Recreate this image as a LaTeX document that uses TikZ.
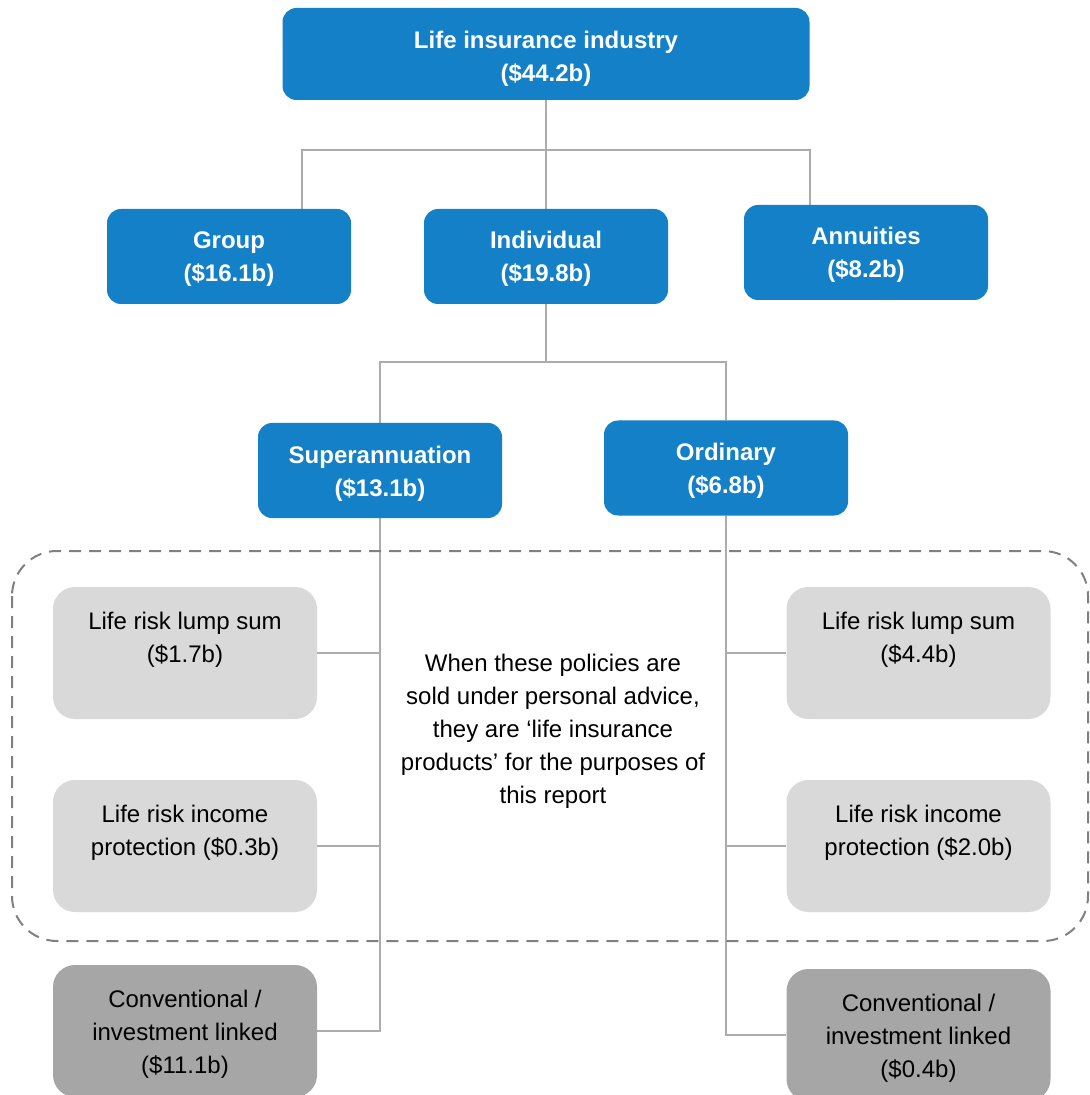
\documentclass[tikz,border=0pt]{standalone}
\usepackage{fontspec}
\setmainfont{Liberation Sans}
\usetikzlibrary{positioning}
\usetikzlibrary{backgrounds}
\definecolor{boxblue}{RGB}{19,128,200}
\definecolor{lightbox}{RGB}{217,217,217}
\definecolor{darkbox}{RGB}{166,166,166}
\definecolor{linkgray}{RGB}{172,172,172}
\definecolor{fencegray}{RGB}{128,128,128}

\begin{document}
\begin{tikzpicture}[x=0.5pt,y=-0.5pt,
	every node/.style={align=center, inner sep=0pt, font=\fontsize{12}{16.5}\selectfont, text depth=0pt},
	twolines/.style={text height=25.5pt},
	threelines/.style={text height=42pt},
	fivelines/.style={text height=75pt},
	bluebox/.style={rectangle, rounded corners=7pt, fill=boxblue, text=white, font=\fontsize{12}{16.5}\selectfont\bfseries, minimum width=122pt, minimum height=47.5pt, twolines},
	greybox/.style={rectangle, rounded corners=11pt, fill=lightbox, minimum width=132pt, minimum height=66pt, threelines},
	darkgreybox/.style={greybox, fill=darkbox},
	link/.style={draw=linkgray, line width=0.6pt},
	fence/.style={draw=fencegray, line width=1pt, dash pattern=on 6pt off 4pt, rounded corners=22.5pt}]
	\useasboundingbox (0,0) rectangle (1089,1095);

	\draw[fence] (12,551) rectangle (1088,941);

	\begin{scope}[every node/.append style={bluebox}]
		\node[minimum width=263.5pt, minimum height=46pt, text height=28pt] (top) at (546,54) {Life insurance industry\\(\$44.2b)};
		\node (group) at (229,256.5) {Group\\(\$16.1b)};
		\node (indiv) at (546,256.5) {Individual\\(\$19.8b)};
		\node (annu) at (866,252.5) {Annuities\\(\$8.2b)};
		\node (super) at (380,470.5) {Superannuation\\(\$13.1b)};
		\node (ord) at (726,468) {Ordinary\\(\$6.8b)};
	\end{scope}

	\begin{scope}[every node/.append style={greybox}]
		\node (lumpL) at (185,653) {Life risk lump sum\\(\$1.7b)\\\mbox{}};
		\node (incL) at (185,846) {Life risk income\\protection (\$0.3b)\\\mbox{}};
		\node (lumpR) at (918.5,653) {Life risk lump sum\\(\$4.4b)\\\mbox{}};
		\node (incR) at (918.5,846) {Life risk income\\protection (\$2.0b)\\\mbox{}};
	\end{scope}

	\node[darkgreybox] (convL) at (185,1031) {Conventional /\\investment linked\\(\$11.1b)};
	\node[darkgreybox] (convR) at (918.5,1035) {Conventional /\\investment linked\\(\$0.4b)};

	\node[fivelines] (note) at (553,728) {When these policies are\\sold under personal advice,\\they are `life insurance\\products' for the purposes of\\this report};

	\coordinate (groupdrop) at (302,150);
	\coordinate (annudrop) at (810,150);
	\coordinate (indivbus) at (546,362);

	\begin{scope}[on background layer]
		\draw[link] (top.south) -- (indiv.north);
		\draw[link] (group.north -| groupdrop) -- (groupdrop) -- (annudrop) -- (annu.north -| annudrop);
		\draw[link] (indiv.south) -- (indivbus);
		\draw[link] (super.north) |- (indivbus) -| (ord.north);
		\draw[link] (super.south) |- (convL.east);
		\draw[link] (ord.south) |- (convR.west);
		\foreach \n in {lumpL,incL}{\draw[link] (\n.east) -- (\n.east -| super.south);}
		\foreach \n in {lumpR,incR}{\draw[link] (\n.west) -- (\n.west -| ord.south);}
	\end{scope}
\end{tikzpicture}
\end{document}
